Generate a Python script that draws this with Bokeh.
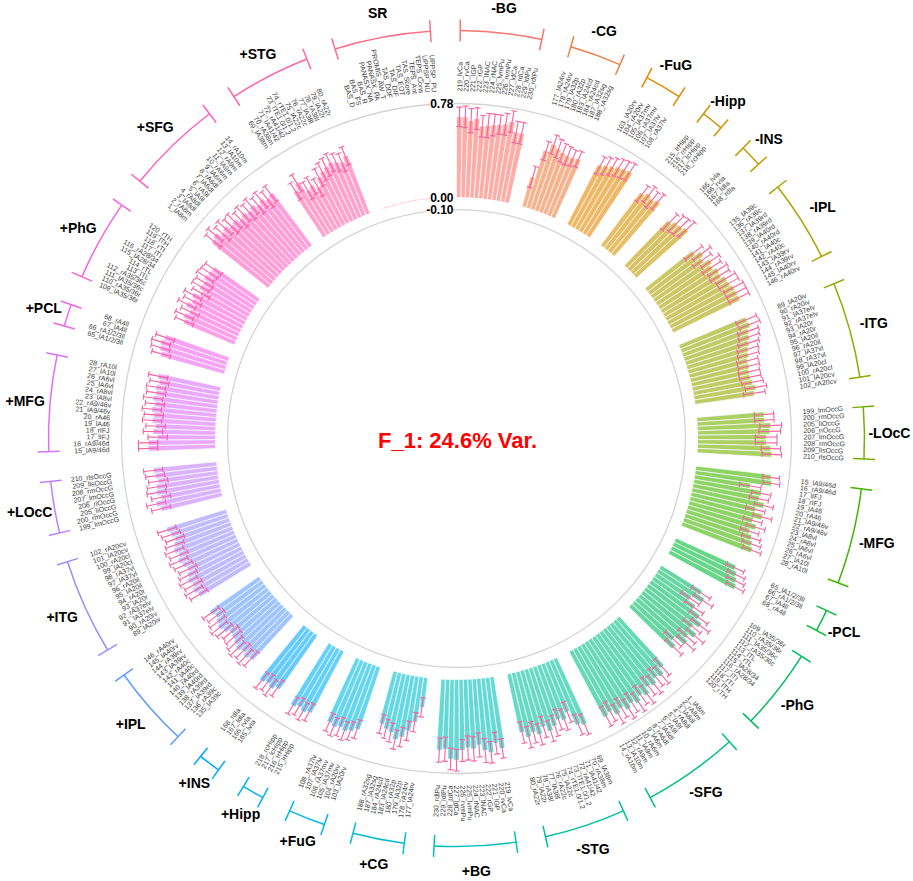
import math
from bokeh.plotting import figure
from bokeh.models import ColumnDataSource, Label
from bokeh.embed import file_html
from bokeh.resources import INLINE
from bokeh.core.properties import value

# ---------------- region / item labels (clockwise order inside each group) -------------
BG_regions = ["219_lvCa", "220_rvCa", "221_lGP", "222_rGP", "223_lNAC", "224_rNAC",
              "225_lvmPu", "226_rvmPu", "227_ldCa", "228_rdCa", "229_ldlPu", "230_rdlPu"]
CG_regions = ["177_lA24rv", "178_rA24rv", "179_lA32p", "180_rA32p",
              "183_lA24cd", "184_rA24cd", "187_lA32sg", "188_rA32sg"]
FuG_regions = ["103_lA20rv", "104_rA20rv", "105_lA37mv", "106_rA37mv", "107_lA37lv", "108_rA37lv"]
Hipp_regions = ["215_lrHipp", "216_rrHipp", "217_lcHipp", "218_rcHipp"]
INS_regions = ["165_lvIa", "166_rvIa", "167_ldIa", "168_rdIa"]
IPL_regions = ["135_lA39c", "136_rA39c", "137_lA39rd", "138_rA39rd", "139_lA40rd", "140_rA40rd",
               "141_lA40c", "142_rA40c", "143_lA39rv", "144_rA39rv", "145_lA40rv", "146_rA40rv"]
ITG_regions = ["89_lA20iv", "90_rA20iv", "91_lA37elv", "92_rA37elv", "93_lA20r", "94_rA20r",
               "95_lA20il", "96_rA20il", "97_lA37vl", "98_rA37vl", "99_lA20cl", "100_rA20cl",
               "101_lA20cv", "102_rA20cv"]
LOcC_regions = ["199_lmOccG", "200_rmOccG", "205_liOccG", "206_riOccG",
                "207_lmOccG", "208_rmOccG", "209_llsOccG", "210_rlsOccG"]
MFG_regions = ["15_lA9/46d", "16_rA9/46d", "17_lIFJ", "18_rIFJ", "19_lA46", "20_rA46",
               "21_lA9/46v", "22_rA9/46v", "23_lA8vl", "24_rA8vl", "25_lA6vl", "26_rA6vl",
               "27_lA10l", "28_rA10l"]
PCL_regions = ["65_lA1/2/3ll", "66_rA1/2/3ll", "67_lA4ll", "68_rA4ll"]
PhG_regions = ["109_lA35/36r", "110_rA35/36r", "111_lA35/36c", "112_rA35/36c", "113_lTL", "114_rTL",
               "115_lA28/34", "116_rA28/34", "117_lTI", "118_rTI", "119_lTH", "120_rTH"]
SFG_regions = ["1_lA8m", "2_rA8m", "3_lA8dl", "4_rA8dl", "5_lA9l", "6_rA9l", "7_lA6dl", "8_rA6dl",
               "9_lA6m", "10_rA6m", "11_lA9m", "12_rA9m", "13_lA10m", "14_rA10m"]
STG_regions = ["69_lA38m", "70_rA38m", "71_lA41/42", "72_rA41/42", "73_lTE1.0/1.2", "74_rTE1.0/1.2",
               "75_lA22c", "76_rA22c", "77_lA38l", "78_rA38l", "79_lA22r", "80_rA22r"]
SR_items = ["BAS_D", "BAS_FS", "BAS_R", "PANASX_NA", "PANASX_PA", "PROMIS_AW_T", "TAS_DDF",
            "TAS_DIF", "TAS_EOT", "TAS_Score", "TEPS_Ant", "TEPS_Cons", "UPPSP_NU", "UPPSP_PU"]

region_names = ["BG", "CG", "FuG", "Hipp", "INS", "IPL", "ITG", "LOcC", "MFG", "PCL", "PhG", "SFG", "STG"]
group_names = ["-" + g for g in region_names] + ["+" + g for g in region_names] + ["SR"]

# ---------------- loadings (value) and error half-widths ------------
val_nBG = [0.67, 0.67, 0.64, 0.66, 0.60, 0.61, 0.62, 0.63, 0.64, 0.67, 0.59, 0.59]
err_nBG = [0.08, 0.09, 0.10, 0.09, 0.09, 0.10, 0.09, 0.08, 0.09, 0.09, 0.09, 0.09]
val_nCG = [0.26, 0.50, 0.57, 0.55, 0.53, 0.52, 0.52, 0.53]
err_nCG = [0.09, 0.08, 0.08, 0.08, 0.08, 0.08, 0.07, 0.07]
val_nFuG = [0.56, 0.58, 0.60, 0.62, 0.63, 0.64]
err_nFuG = [0.08, 0.08, 0.08, 0.08, 0.08, 0.08]
val_nHipp = [0.55, 0.58, 0.56, 0.58]
err_nHipp = [0.08, 0.08, 0.08, 0.08]
val_nINS = [0.52, 0.55, 0.56, 0.58]
err_nINS = [0.09, 0.09, 0.09, 0.09]
val_nIPL = [0.50, 0.55, 0.52, 0.57, 0.55, 0.58, 0.57, 0.60, 0.60, 0.62, 0.62, 0.62]
err_nIPL = [0.09, 0.09, 0.09, 0.09, 0.09, 0.09, 0.09, 0.09, 0.09, 0.09, 0.09, 0.09]
val_nITG = [0.60, 0.61, 0.58, 0.57, 0.55, 0.53, 0.52, 0.50, 0.50, 0.49, 0.49, 0.50, 0.52, 0.50]
err_nITG = [0.09, 0.09, 0.09, 0.09, 0.09, 0.09, 0.09, 0.09, 0.09, 0.09, 0.09, 0.09, 0.09, 0.09]
val_nLOcC = [0.56, 0.56, 0.61, 0.60, 0.57, 0.57, 0.61, 0.62]
err_nLOcC = [0.08, 0.08, 0.09, 0.09, 0.09, 0.09, 0.08, 0.08]
val_nMFG = [0.63, 0.64, 0.47, 0.57, 0.56, 0.61, 0.55, 0.62, 0.55, 0.59, 0.55, 0.58, 0.60, 0.62]
err_nMFG = [0.07, 0.07, 0.09, 0.08, 0.08, 0.08, 0.08, 0.08, 0.08, 0.08, 0.08, 0.08, 0.08, 0.08]
val_nPCL = [0.55, 0.58, 0.60, 0.62]
err_nPCL = [0.08, 0.08, 0.08, 0.08]
val_nPhG = [0.40, 0.45, 0.35, 0.42, 0.50, 0.55, 0.50, 0.57, 0.52, 0.55, 0.45, 0.50]
err_nPhG = [0.09, 0.09, 0.09, 0.09, 0.09, 0.09, 0.09, 0.09, 0.09, 0.09, 0.09, 0.09]
val_nSFG = [0.55, 0.60, 0.58, 0.62, 0.60, 0.65, 0.62, 0.66, 0.63, 0.66, 0.62, 0.65, 0.60, 0.62]
err_nSFG = [0.09, 0.09, 0.09, 0.09, 0.09, 0.09, 0.09, 0.09, 0.09, 0.09, 0.09, 0.09, 0.09, 0.09]
val_nSTG = [0.60, 0.58, 0.45, 0.50, 0.48, 0.52, 0.55, 0.50, 0.55, 0.52, 0.55, 0.50]
err_nSTG = [0.09, 0.09, 0.09, 0.09, 0.09, 0.09, 0.09, 0.09, 0.09, 0.09, 0.09, 0.09]

val_pBG = [0.60, 0.55, 0.62, 0.60, 0.55, 0.58, 0.57, 0.59, 0.67, 0.66, 0.58, 0.59]
err_pBG = [0.08, 0.09, 0.09, 0.10, 0.10, 0.10, 0.10, 0.09, 0.09, 0.09, 0.10, 0.10]
val_pCG = [0.25, 0.38, 0.46, 0.52, 0.55, 0.50, 0.48, 0.45]
err_pCG = [0.08, 0.08, 0.08, 0.08, 0.08, 0.08, 0.08, 0.08]
val_pFuG = [0.55, 0.58, 0.60, 0.58, 0.60, 0.58]
err_pFuG = [0.08, 0.08, 0.08, 0.08, 0.08, 0.08]
val_pHipp = [0.58, 0.60, 0.58, 0.60]
err_pHipp = [0.08, 0.08, 0.08, 0.08]
val_pINS = [0.55, 0.58, 0.56, 0.58]
err_pINS = [0.08, 0.08, 0.08, 0.08]
val_pIPL = [0.50, 0.52, 0.50, 0.52, 0.50, 0.48, 0.47, 0.50, 0.52, 0.50, 0.48, 0.50]
err_pIPL = [0.08, 0.08, 0.08, 0.08, 0.08, 0.08, 0.08, 0.08, 0.08, 0.08, 0.08, 0.08]
val_pITG = [0.50, 0.52, 0.50, 0.52, 0.50, 0.48, 0.50, 0.52, 0.50, 0.52, 0.50, 0.48, 0.50, 0.52]
err_pITG = [0.08, 0.08, 0.08, 0.08, 0.08, 0.08, 0.08, 0.08, 0.08, 0.08, 0.08, 0.08, 0.08, 0.08]
val_pLOcC = [0.52, 0.55, 0.50, 0.53, 0.52, 0.50, 0.52, 0.53]
err_pLOcC = [0.08, 0.08, 0.08, 0.08, 0.08, 0.08, 0.08, 0.08]
val_pMFG = [0.56, 0.56, 0.48, 0.52, 0.50, 0.53, 0.52, 0.54, 0.52, 0.54, 0.52, 0.53, 0.51, 0.53]
err_pMFG = [0.08, 0.08, 0.08, 0.08, 0.08, 0.08, 0.08, 0.08, 0.08, 0.08, 0.08, 0.08, 0.08, 0.08]
val_pPCL = [0.55, 0.57, 0.58, 0.56]
err_pPCL = [0.08, 0.08, 0.08, 0.08]
val_pPhG = [0.46, 0.48, 0.45, 0.50, 0.47, 0.49, 0.44, 0.47, 0.46, 0.48, 0.47, 0.46]
err_pPhG = [0.08, 0.08, 0.08, 0.08, 0.08, 0.08, 0.08, 0.08, 0.08, 0.08, 0.08, 0.08]
val_pSFG = [0.60, 0.62, 0.58, 0.60, 0.57, 0.58, 0.55, 0.57, 0.55, 0.57, 0.54, 0.56, 0.53, 0.55]
err_pSFG = [0.08, 0.08, 0.08, 0.08, 0.08, 0.08, 0.08, 0.08, 0.08, 0.08, 0.08, 0.08, 0.08, 0.08]
val_pSTG = [0.45, 0.50, 0.40, 0.42, 0.38, 0.45, 0.48, 0.50, 0.52, 0.50, 0.48, 0.52]
err_pSTG = [0.08, 0.08, 0.08, 0.08, 0.08, 0.08, 0.08, 0.08, 0.08, 0.08, 0.08, 0.08]

val_SR = [0.01, 0.01, 0.01, 0.01, 0.01, 0.01, 0.01, 0.01, 0.01, 0.01, 0.01, 0.01, 0.01, 0.01]
err_SR = [0.0] * 14

axis_ticks = [-0.10, 0.00, 0.78]
axis_tick_labels = ["-0.10", "0.00", "0.78"]
title_text = "F_1: 24.6% Var."

# ---------------- assemble groups ---------------------------------------------------------
region_items = {"BG": BG_regions, "CG": CG_regions, "FuG": FuG_regions, "Hipp": Hipp_regions,
                "INS": INS_regions, "IPL": IPL_regions, "ITG": ITG_regions, "LOcC": LOcC_regions,
                "MFG": MFG_regions, "PCL": PCL_regions, "PhG": PhG_regions, "SFG": SFG_regions,
                "STG": STG_regions}
g_vals = {
    "-BG": (val_nBG, err_nBG), "-CG": (val_nCG, err_nCG), "-FuG": (val_nFuG, err_nFuG),
    "-Hipp": (val_nHipp, err_nHipp), "-INS": (val_nINS, err_nINS), "-IPL": (val_nIPL, err_nIPL),
    "-ITG": (val_nITG, err_nITG), "-LOcC": (val_nLOcC, err_nLOcC), "-MFG": (val_nMFG, err_nMFG),
    "-PCL": (val_nPCL, err_nPCL), "-PhG": (val_nPhG, err_nPhG), "-SFG": (val_nSFG, err_nSFG),
    "-STG": (val_nSTG, err_nSTG),
    "+BG": (val_pBG, err_pBG), "+CG": (val_pCG, err_pCG), "+FuG": (val_pFuG, err_pFuG),
    "+Hipp": (val_pHipp, err_pHipp), "+INS": (val_pINS, err_pINS), "+IPL": (val_pIPL, err_pIPL),
    "+ITG": (val_pITG, err_pITG), "+LOcC": (val_pLOcC, err_pLOcC), "+MFG": (val_pMFG, err_pMFG),
    "+PCL": (val_pPCL, err_pPCL), "+PhG": (val_pPhG, err_pPhG), "+SFG": (val_pSFG, err_pSFG),
    "+STG": (val_pSTG, err_pSTG), "SR": (val_SR, err_SR),
}


def items_of(g):
    return SR_items if g == "SR" else region_items[g[1:]]


# ---------------- colours: ggplot-like hue palette -----------------------------------------
def hcl_hex(h, c=100.0, l=65.0):
    hr = math.radians(h)
    U, V = c * math.cos(hr), c * math.sin(hr)
    Xn, Yn, Zn = 95.047, 100.0, 108.883
    Y = Yn * ((l + 16) / 116) ** 3
    t = Xn + 15 * Yn + 3 * Zn
    un, vn = 4 * Xn / t, 9 * Yn / t
    u = U / (13 * l) + un
    v = V / (13 * l) + vn
    X = 9.0 * Y * u / (4 * v)
    Z = -X / 3 - 5 * Y + 3 * Y / v
    X, Y, Z = X / 100, Y / 100, Z / 100
    rgb = [3.240479 * X - 1.537150 * Y - 0.498535 * Z,
           -0.969256 * X + 1.875992 * Y + 0.041556 * Z,
           0.055648 * X - 0.204043 * Y + 1.057311 * Z]
    out = []
    for ch in rgb:
        ch = 12.92 * ch if ch <= 0.0031308 else 1.055 * ch ** (1 / 2.4) - 0.055
        out.append(int(round(max(0, min(1, ch)) * 255)))
    return "#%02x%02x%02x" % tuple(out)


ng = len(group_names)
group_colors = [hcl_hex(15 + 360.0 * i / ng) for i in range(ng)]

# ---------------- geometry (pixels == data units) ------------------------------------------
R0 = 241.0          # radius of value 0
K = 120.5           # pixels per unit of value
GAP = 3
R_LAB = 347.0
R_BR = 408.0
BR_TICK = 11.0
R_GLAB = 433.0
CAP = 3.0


def rad(v):
    return R0 + v * K


n_slots = sum(len(items_of(g)) for g in group_names) + GAP * ng
step = 2 * math.pi / n_slots

p = figure(width=913, height=881, x_range=(-456, 457), y_range=(-443, 438),
           output_backend="svg", toolbar_location=None, x_axis_type=None, y_axis_type=None,
           min_border=0, outline_line_color=None, background_fill_color="white")
p.grid.visible = False

# reference circles
for tv in (axis_ticks[0], axis_ticks[2]):
    p.arc(x=0, y=0, radius=rad(tv), start_angle=0, end_angle=2 * math.pi,
          line_color="#d4d4d4", line_width=1.3)

bar = dict(sa=[], ea=[], orr=[], col=[])
eb = dict(x0=[], y0=[], x1=[], y1=[])
lab = dict(x=[], y=[], t=[], a=[], al=[])
glab = dict(x=[], y=[], t=[])
brk = dict(sa=[], ea=[], col=[])
tick = dict(x0=[], y0=[], x1=[], y1=[], col=[])

slot = 0
for gi, g in enumerate(group_names):
    vals, errs = g_vals[g]
    its = items_of(g)
    col = group_colors[gi]
    first = slot
    for i, (v, e, name) in enumerate(zip(vals, errs, its)):
        t0 = slot * step
        t1 = (slot + 1) * step
        tc = (slot + 0.5) * step
        bar["sa"].append(math.pi / 2 - t1)
        bar["ea"].append(math.pi / 2 - t0)
        bar["orr"].append(rad(v))
        bar["col"].append(col)
        if e > 0:
            s, c = math.sin(tc), math.cos(tc)
            r1, r2 = rad(v - e), rad(v + e)
            eb["x0"].append(r1 * s); eb["y0"].append(r1 * c)
            eb["x1"].append(r2 * s); eb["y1"].append(r2 * c)
            for rr in (r1, r2):
                eb["x0"].append(rr * s - CAP * c); eb["y0"].append(rr * c + CAP * s)
                eb["x1"].append(rr * s + CAP * c); eb["y1"].append(rr * c - CAP * s)
        lab["x"].append(R_LAB * math.sin(tc))
        lab["y"].append(R_LAB * math.cos(tc))
        lab["t"].append(name)
        if tc < math.pi:
            lab["a"].append(math.pi / 2 - tc)
            lab["al"].append("left")
        else:
            lab["a"].append(math.pi / 2 - tc + math.pi)
            lab["al"].append("right")
        slot += 1
    last = slot - 1
    ta = (first + 0.5) * step
    tb = (last + 0.5) * step
    brk["sa"].append(math.pi / 2 - tb)
    brk["ea"].append(math.pi / 2 - ta)
    brk["col"].append(col)
    for tt in (ta, tb):
        tick["x0"].append((R_BR - BR_TICK) * math.sin(tt)); tick["y0"].append((R_BR - BR_TICK) * math.cos(tt))
        tick["x1"].append((R_BR + BR_TICK) * math.sin(tt)); tick["y1"].append((R_BR + BR_TICK) * math.cos(tt))
        tick["col"].append(col)
    tm = (ta + tb) / 2
    glab["x"].append(R_GLAB * math.sin(tm))
    glab["y"].append(R_GLAB * math.cos(tm))
    glab["t"].append(g)
    slot += GAP

p.annular_wedge(x=0, y=0, inner_radius=R0, outer_radius="orr", start_angle="sa", end_angle="ea",
                fill_color="col", fill_alpha=0.6, line_color="white", line_width=0.7,
                source=ColumnDataSource(bar))
p.segment(x0="x0", y0="y0", x1="x1", y1="y1", line_color="#f7629f", line_width=1.1,
          source=ColumnDataSource(eb))
p.text(x="x", y="y", text="t", angle="a", text_align="al", text_baseline="middle",
       text_font=value("Liberation Sans"), text_font_size="7px", text_color="#3c3c3c",
       source=ColumnDataSource(lab))
p.arc(x=0, y=0, radius=R_BR, start_angle="sa", end_angle="ea", line_color="col", line_width=1.5,
      source=ColumnDataSource(brk))
p.segment(x0="x0", y0="y0", x1="x1", y1="y1", line_color="col", line_width=1.5,
          source=ColumnDataSource(tick))
p.text(x="x", y="y", text="t", text_align="center", text_baseline="middle",
       text_font=value("Liberation Sans"), text_font_style="bold", text_font_size="14px",
       text_color="black", source=ColumnDataSource(glab))

for tv, tl in zip(axis_ticks, axis_tick_labels):
    p.add_layout(Label(x=-3, y=rad(tv), text=tl, text_align="right", text_baseline="middle",
                       text_font="Liberation Sans", text_font_style="bold", text_font_size="12px",
                       text_color="black", background_fill_color="white", background_fill_alpha=1.0))

p.text(x=[1], y=[-2], text=[title_text], text_align="center", text_baseline="middle",
       text_font=value("Liberation Sans"), text_font_style="bold", text_font_size="22px",
       text_color="#ff0000")

open("out.html", "w").write(file_html(p, INLINE))
